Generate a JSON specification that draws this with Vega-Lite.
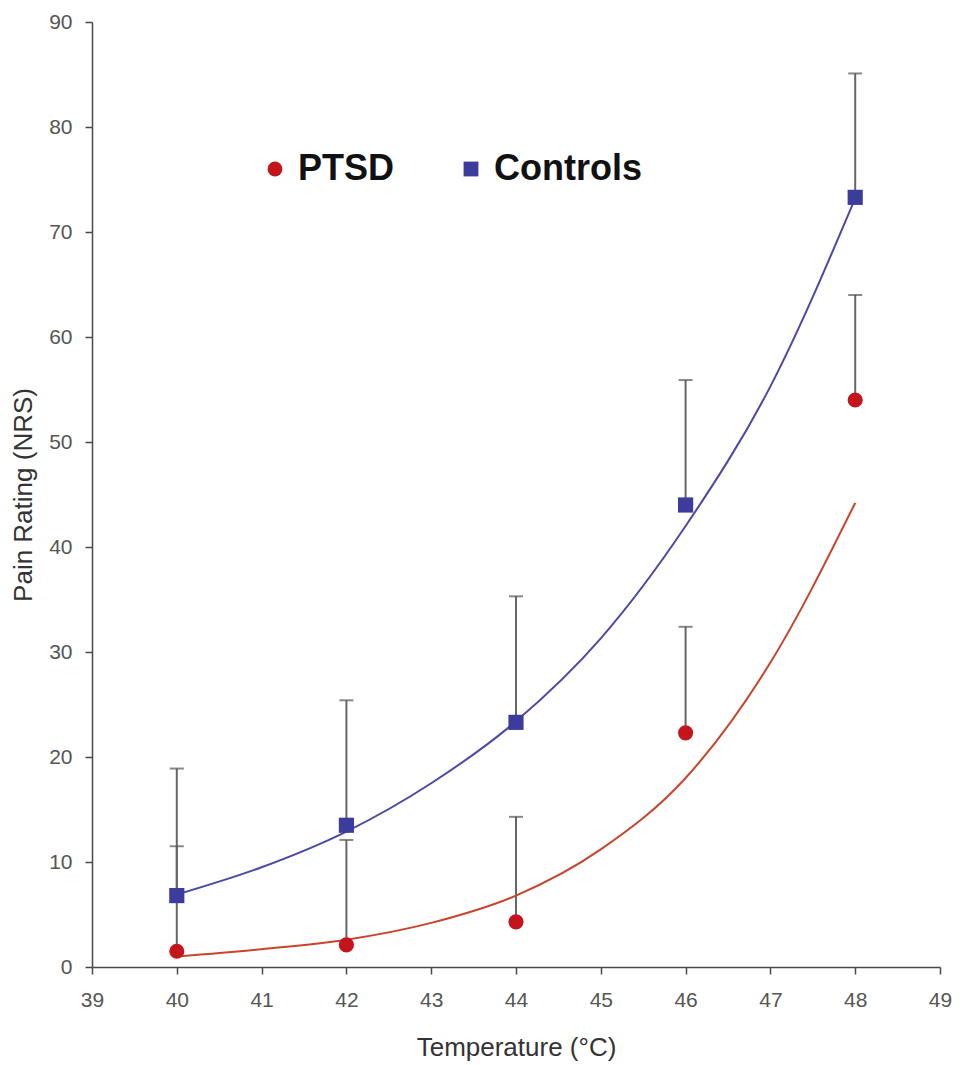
{
  "$schema": "https://vega.github.io/schema/vega-lite/v6.json",
  "width": 848,
  "height": 945,
  "autosize": {"type": "none"},
  "padding": {"left": 92, "top": 22, "right": 25, "bottom": 98},
  "background": "white",
  "config": {
    "view": {"stroke": null},
    "font": "Liberation Sans",
    "axis": {
      "grid": false,
      "labelFlush": false,
      "domainColor": "#4a4a4a",
      "domainWidth": 1.5,
      "tickColor": "#4a4a4a",
      "tickWidth": 1.5,
      "tickSize": 7,
      "labelFont": "Liberation Sans",
      "labelFontSize": 21,
      "labelColor": "#555555",
      "titleFont": "Liberation Sans",
      "titleFontSize": 26,
      "titleFontWeight": "normal",
      "titleColor": "#333333"
    },
    "axisX": {"labelPadding": 15, "titlePadding": 24},
    "axisY": {"labelPadding": 13, "titlePadding": 12}
  },
  "datasets": {
    "points": [
      {"temp": 40, "group": "PTSD", "rating": 1.5, "upper": 11.5},
      {"temp": 42, "group": "PTSD", "rating": 2.1, "upper": 12.1},
      {"temp": 44, "group": "PTSD", "rating": 4.3, "upper": 14.3},
      {"temp": 46, "group": "PTSD", "rating": 22.3, "upper": 32.4},
      {"temp": 48, "group": "PTSD", "rating": 54.0, "upper": 64.0},
      {"temp": 40, "group": "Controls", "rating": 6.8, "upper": 18.9},
      {"temp": 42, "group": "Controls", "rating": 13.5, "upper": 25.4},
      {"temp": 44, "group": "Controls", "rating": 23.3, "upper": 35.3},
      {"temp": 46, "group": "Controls", "rating": 44.0, "upper": 55.9},
      {"temp": 48, "group": "Controls", "rating": 73.3, "upper": 85.1}
    ],
    "curves": [
      {"temp": 40, "group": "PTSD", "rating": 1.0},
      {"temp": 41, "group": "PTSD", "rating": 1.7},
      {"temp": 42, "group": "PTSD", "rating": 2.6},
      {"temp": 43, "group": "PTSD", "rating": 4.2},
      {"temp": 44, "group": "PTSD", "rating": 6.8},
      {"temp": 45, "group": "PTSD", "rating": 11.2},
      {"temp": 46, "group": "PTSD", "rating": 18.0},
      {"temp": 47, "group": "PTSD", "rating": 29.0},
      {"temp": 48, "group": "PTSD", "rating": 44.2},
      {"temp": 40, "group": "Controls", "rating": 6.9},
      {"temp": 41, "group": "Controls", "rating": 9.5},
      {"temp": 42, "group": "Controls", "rating": 12.9},
      {"temp": 43, "group": "Controls", "rating": 17.5},
      {"temp": 44, "group": "Controls", "rating": 23.4},
      {"temp": 45, "group": "Controls", "rating": 31.3},
      {"temp": 46, "group": "Controls", "rating": 42.0},
      {"temp": 47, "group": "Controls", "rating": 55.3},
      {"temp": 48, "group": "Controls", "rating": 73.2}
    ]
  },
  "encoding": {
    "x": {
      "field": "temp",
      "type": "quantitative",
      "title": "Temperature (°C)",
      "scale": {"domain": [39, 49], "nice": false, "zero": false},
      "axis": {"values": [39, 40, 41, 42, 43, 44, 45, 46, 47, 48, 49]}
    },
    "y": {
      "field": "rating",
      "type": "quantitative",
      "title": "Pain Rating (NRS)",
      "scale": {"domain": [0, 90], "nice": false},
      "axis": {"values": [0, 10, 20, 30, 40, 50, 60, 70, 80, 90]}
    }
  },
  "layer": [
    {
      "data": {"name": "points"},
      "mark": {"type": "rule", "color": "#666666", "strokeWidth": 2},
      "encoding": {"y2": {"field": "upper"}}
    },
    {
      "data": {"name": "points"},
      "mark": {"type": "tick", "orient": "horizontal", "color": "#555555", "size": 14, "thickness": 2},
      "encoding": {
        "y": {"field": "upper", "type": "quantitative", "title": "Pain Rating (NRS)"}
      }
    },
    {
      "data": {"name": "curves"},
      "transform": [{"filter": {"field": "group", "equal": "PTSD"}}],
      "mark": {"type": "line", "interpolate": "monotone", "color": "#c8442c", "strokeWidth": 2},
      "encoding": {}
    },
    {
      "data": {"name": "curves"},
      "transform": [{"filter": {"field": "group", "equal": "Controls"}}],
      "mark": {"type": "line", "interpolate": "monotone", "color": "#4a4aa6", "strokeWidth": 2},
      "encoding": {}
    },
    {
      "data": {"name": "points"},
      "mark": {"type": "point", "filled": true, "opacity": 1, "size": 230},
      "encoding": {
        "color": {
          "field": "group",
          "type": "nominal",
          "scale": {"domain": ["PTSD", "Controls"], "range": ["#c4151d", "#3c3c9c"]},
          "legend": {
            "title": null,
            "orient": "none",
            "legendX": 165,
            "legendY": 129,
            "direction": "horizontal",
            "padding": 0,
            "labelFont": "Liberation Sans",
            "labelFontSize": 36,
            "labelFontWeight": "bold",
            "labelColor": "#111111",
            "labelOffset": 5,
            "labelLimit": 400,
            "symbolSize": 220,
            "symbolStrokeWidth": 0,
            "columnPadding": 58
          }
        },
        "shape": {
          "field": "group",
          "type": "nominal",
          "scale": {"domain": ["PTSD", "Controls"], "range": ["circle", "square"]},
          "legend": {
            "title": null,
            "orient": "none",
            "legendX": 165,
            "legendY": 129,
            "direction": "horizontal",
            "padding": 0,
            "labelFont": "Liberation Sans",
            "labelFontSize": 36,
            "labelFontWeight": "bold",
            "labelColor": "#111111",
            "labelOffset": 5,
            "labelLimit": 400,
            "symbolSize": 220,
            "symbolStrokeWidth": 0,
            "columnPadding": 58
          }
        }
      }
    }
  ]
}
